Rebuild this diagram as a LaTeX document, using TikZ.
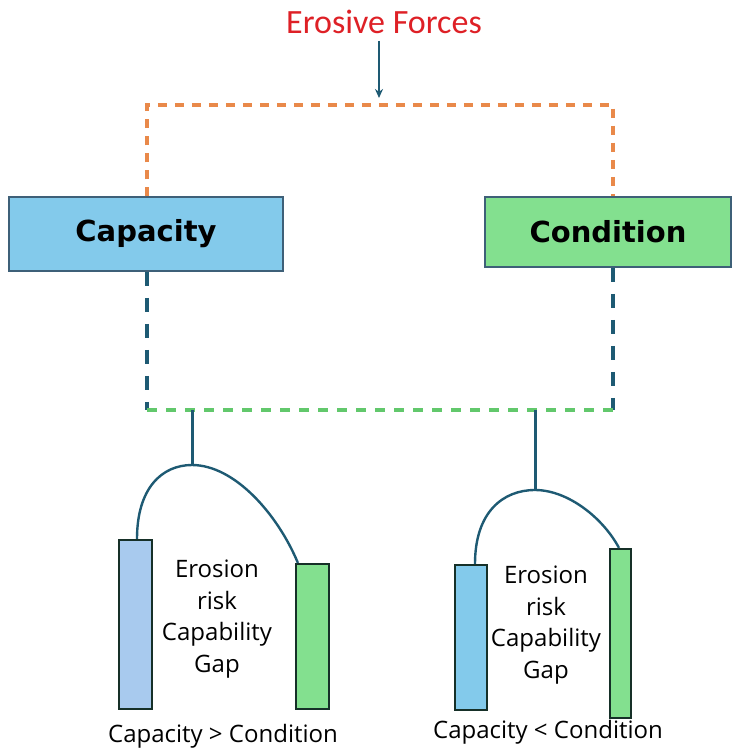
\documentclass[tikz,border=0pt]{standalone}
\usepackage{fontspec}
\usetikzlibrary{arrows.meta,calc}
\newfontfamily\carlitofont{Carlito}
\newfontfamily\dejabold[BoldFont={DejaVu Sans Bold}]{DejaVu Sans}
\newfontfamily\opensansfont{Open Sans}
\definecolor{redtxt}{RGB}{222,32,38}
\definecolor{teal}{RGB}{30,90,115}
\definecolor{orangedash}{RGB}{233,137,74}
\definecolor{greendash}{RGB}{98,200,108}
\definecolor{capfill}{RGB}{131,202,235}
\definecolor{condfill}{RGB}{131,224,143}
\definecolor{lightblue}{RGB}{168,202,238}
\definecolor{boxborder}{RGB}{62,96,120}
\definecolor{barborder}{RGB}{22,48,40}
\tikzset{
  mainbox/.style={draw=boxborder, line width=1.5pt, inner sep=0pt, font=\dejabold\bfseries\fontsize{29}{34}\selectfont},
  bar/.style={draw=barborder, line width=2.2pt, inner sep=0pt},
  tealline/.style={draw=teal, line width=3pt},
  arcline/.style={draw=teal, line width=2.4pt},
  orangeline/.style={draw=orangedash, line width=3.2pt, dash pattern=on 9pt off 8pt},
  tealdash/.style={draw=teal, line width=3.2pt, dash pattern=on 14pt off 12pt},
  greenline/.style={draw=greendash, line width=3.2pt, dash pattern=on 10pt off 9pt},
  gaptext/.style={align=center, inner sep=0pt, font=\opensansfont\fontsize{24}{31.5}\selectfont},
  cmptext/.style={inner sep=0pt, font=\opensansfont\fontsize{24}{28}\selectfont}
}
\begin{document}
\begin{tikzpicture}[x=1pt,y=-1pt]
\useasboundingbox (0,0) rectangle (731,749);
% title and arrow
\node[font=\carlitofont\fontsize{34}{40}\selectfont, text=redtxt, inner sep=0pt] (forces) at (384,22) {Erosive Forces};
\coordinate (arrtip) at (379,98);
\draw[draw=teal, line width=2pt, -{Stealth[length=9pt,width=8pt]}] (379,41) -- (arrtip);
% main boxes
\node[mainbox, fill=capfill, minimum width=274pt, minimum height=74pt] (cap) at (146,234) {Capacity};
\node[mainbox, fill=condfill, minimum width=246pt, minimum height=70pt] (cond) at (608,232) {Condition};
% frame corners
\coordinate (otl) at (147,105);
\coordinate (otr) at (613,105);
\coordinate (gbl) at (147,410);
\coordinate (gbr) at (613,410);
\draw[orangeline] (cap.north -| otl) -- (otl) -- (otr) -- (cond.north -| otr);
\draw[tealdash] (cap.south -| gbl) -- (gbl);
\draw[tealdash] (cond.south -| gbr) -- (gbr);
\draw[greenline] (gbl) -- (gbr);
% left pair
\coordinate (lpeak) at (192,465);
\coordinate (ljoin) at (192,410);
\node[bar, fill=lightblue, minimum width=33pt, minimum height=169pt] (lb) at (135.5,624.5) {};
\node[bar, fill=condfill, minimum width=33pt, minimum height=145pt] (lg) at (312.5,636.5) {};
\draw[tealline] (ljoin) -- (lpeak);
\draw[arcline] ([xshift=1.5pt]lb.north) .. controls (137,488) and (162,465) .. (lpeak)
   .. controls (235,465) and (278,515) .. ([xshift=3pt]lg.north west);
\node[gaptext] (lgap) at (217,619) {Erosion\\risk\\Capability\\Gap};
\node[cmptext] (lcmp) at (223,736) {Capacity > Condition};
% right pair
\coordinate (rpeak) at (535,490);
\coordinate (rjoin) at (535,410);
\node[bar, fill=capfill, minimum width=32pt, minimum height=145pt] (rb) at (471,637.5) {};
\node[bar, fill=condfill, minimum width=21pt, minimum height=169pt] (rg) at (620.5,633.5) {};
\draw[tealline] (rjoin) -- (rpeak);
\draw[arcline] ([xshift=4pt]rb.north) .. controls (475,512) and (503,490) .. (rpeak)
   .. controls (568,490) and (603,518) .. ([xshift=-1.5pt]rg.north);
\node[gaptext] (rgap) at (546,625) {Erosion\\risk\\Capability\\Gap};
\node[cmptext] (rcmp) at (548,732) {Capacity < Condition};
\end{tikzpicture}
\end{document}
